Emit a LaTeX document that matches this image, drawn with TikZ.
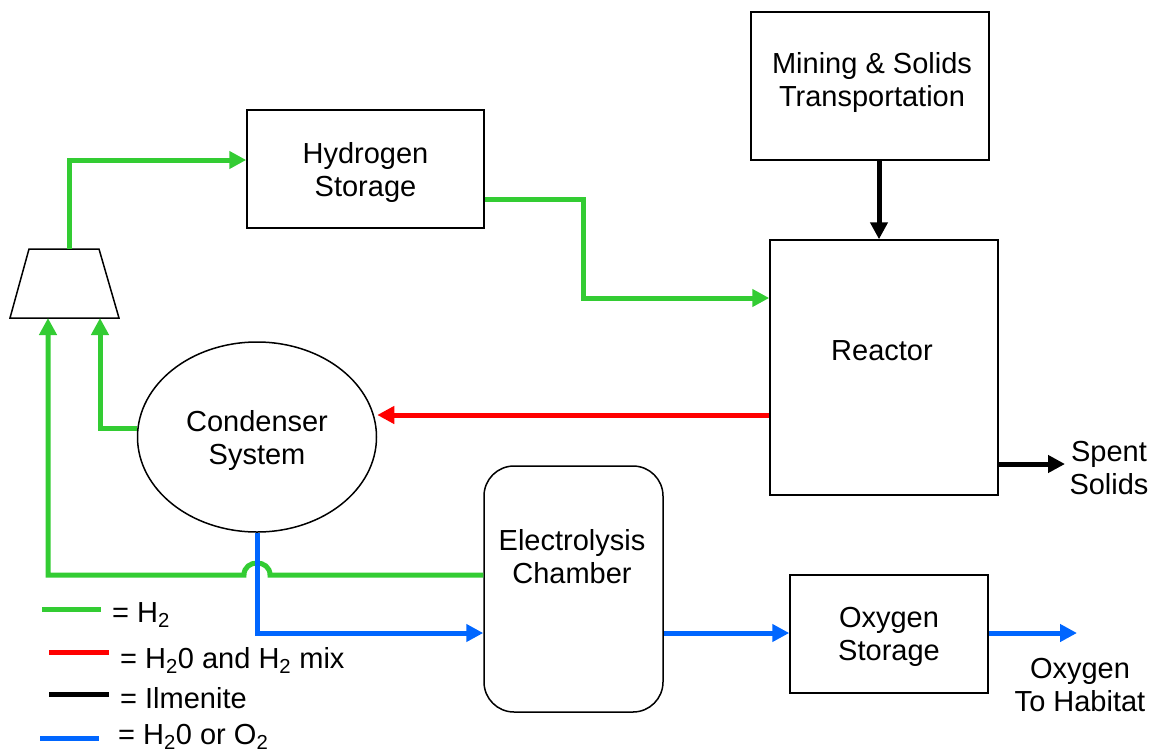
\documentclass[tikz,border=0pt]{standalone}
\usepackage{fontspec}
\setmainfont{Liberation Sans}
\usetikzlibrary{arrows.meta,shapes.geometric}
\definecolor{hgreen}{RGB}{51,204,51}
\definecolor{hblue}{RGB}{0,102,255}
\definecolor{hred}{RGB}{255,0,0}
\begin{document}
\begin{tikzpicture}[x=1pt,y=-1pt,
  every node/.style={font=\fontsize{29}{33}\selectfont},
  unit/.style={draw,line width=1.5pt,inner sep=0pt,align=center,text depth=0pt},
  txt/.style={align=center,inner sep=0pt},
  flow/.style={line width=5pt,-{Triangle[length=17pt,width=17pt]}},
  gflow/.style={flow,draw=hgreen},
  bflow/.style={flow,draw=hblue},
  rflow/.style={flow,draw=hred},
  kflow/.style={flow,draw=black},
  legline/.style={line width=5pt},
  legtxt/.style={anchor=base west,inner sep=0pt}]
\useasboundingbox (0,0) rectangle (1154,753);

% units
\node[unit,minimum width=238pt,minimum height=148pt] (mine) at (870,86) {};
\node[txt] (minelbl) at (872,82) {Mining \& Solids\\Transportation};
\node[unit,minimum width=237pt,minimum height=118pt] (hyd) at (365.5,169) {Hydrogen\\Storage};
\node[unit,minimum width=228pt,minimum height=255pt] (reactor) at (884,367.5) {};
\node[txt] (reactorlbl) at (882,351) {Reactor};
\node[unit,ellipse,minimum width=239pt,minimum height=190pt] (cond) at (257,437) {Condenser\\System};
\node[unit,rounded corners=30pt,minimum width=179pt,minimum height=246pt] (elec) at (573.5,589) {};
\node[txt] (eleclbl) at (572,557) {Electrolysis\\Chamber};
\node[unit,minimum width=198pt,minimum height=118pt] (oxy) at (889,634) {Oxygen\\Storage};

% compressor
\coordinate (compTop) at (69,249);
\coordinate (compB1) at (48,318);
\coordinate (compB2) at (100,318);
\draw[line width=1.5pt,line join=miter] (29,249) -- (99,249) -- (119,318) -- (10,318) -- cycle;

% connectors
\draw[gflow] (compTop) |- ([yshift=9pt]hyd.west);
\draw[gflow] (hyd.east |- 0,199) -- (583,199) |- (reactor.west |- 0,298);
\draw[kflow] (mine.south -| 879,0) -- (reactor.north -| 879,0);
\draw[rflow] (reactor.west |- 0,415) -- (cond.east |- 0,415);
\coordinate (spentEnd) at (1065,464);
\draw[kflow] (reactor.east |- spentEnd) -- (spentEnd);
\node[txt] (spent) at (1109,468) {Spent\\Solids};
\draw[gflow] (cond.west |- 0,428) -| (compB2);
\draw[gflow] (elec.west |- 0,575) -- (270,575) .. controls (270,559) and (244,559) .. (244,575) -- (48,575) -- (compB1);
\draw[bflow] (cond.south) |- (elec.west |- 0,633);
\draw[bflow] (elec.east |- 0,633) -- (oxy.west |- 0,633);
\coordinate (oxyEnd) at (1077,633);
\draw[bflow] (oxy.east |- oxyEnd) -- (oxyEnd);
\node[txt] (habitat) at (1080,685) {Oxygen\\To Habitat};

% legend
\draw[legline,hgreen] (42,609) -- (101,609);
\node[legtxt] (lg1) at (112,622) {= H\textsubscript{2}};
\draw[legline,hred] (49,652) -- (109,652);
\node[legtxt] (lg2) at (120,668) {= H\textsubscript{2}0 and H\textsubscript{2} mix};
\draw[legline,black] (49,694) -- (109,694);
\node[legtxt] (lg3) at (120,708) {= Ilmenite};
\draw[legline,hblue] (40,738) -- (99,738);
\node[legtxt] (lg4) at (118,744) {= H\textsubscript{2}0 or O\textsubscript{2}};
\end{tikzpicture}
\end{document}
